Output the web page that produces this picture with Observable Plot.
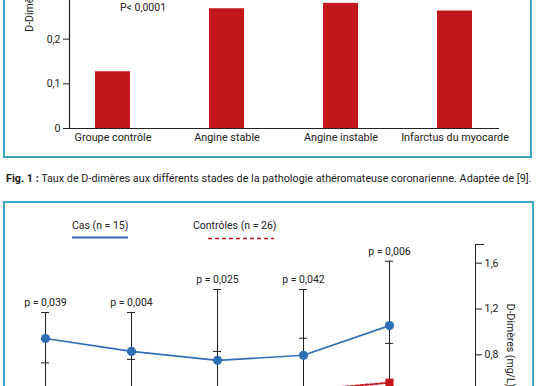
<!DOCTYPE html>
<html>
<head>
<meta charset="utf-8">
<script src="https://cdn.jsdelivr.net/npm/d3@7"></script>
<script src="https://cdn.jsdelivr.net/npm/@observablehq/plot@0.6"></script>
<style>
  html, body { margin: 0; padding: 0; background: #fff; }
  body { width: 536px; height: 386px; overflow: hidden; position: relative; font-family: Roboto, sans-serif; color: #222; }
  .abs { position: absolute; }
  .panel { position: absolute; box-sizing: border-box; border: 2px solid #3ea6c6; pointer-events: none; }
  #caption { left: 6px; top: 172px; font-size: 10.8px; line-height: 14px; white-space: nowrap; color: #1c1c1c; }
  .leg { font-size: 10.5px; line-height: 14px; white-space: nowrap; color: #222; }
</style>
</head>
<body>
<div id="top" class="abs" style="left:0;top:-159px"></div>
<div class="panel" style="left:3px;top:-10px;width:529px;height:168px"></div>
<div id="caption" class="abs"><b>Fig. 1 :</b> Taux de D-dimères aux différents stades de la pathologie athéromateuse coronarienne. Adaptée de [9].</div>
<div id="bottom" class="abs" style="left:0;top:202px"></div>
<div class="panel" style="left:3px;top:201px;width:531px;height:300px"></div>
<div id="legend"></div>
<script>
// ---- Figure 1 data ----
const categories = ["Groupe contrôle", "Angine stable", "Angine instable", "Infarctus du myocarde"];
const barValues = [0.127, 0.268, 0.280, 0.263];
const barTicks = [0, 0.1, 0.2, 0.3, 0.4, 0.5, 0.6];
const barMax = 0.62;
const barAnnotation = ["P< 0,0001"];
const barAnnotationAt = [0.270];

// ---- Figure 2 data ----
const timepoints = ["T1", "T2", "T3", "T4", "T5"];
const casMean = [0.942, 0.830, 0.752, 0.796, 1.055];
const casUpper = [1.169, 1.169, 1.370, 1.370, 1.617];
const casLower = [0.40, 0.35, 0.30, 0.35, 0.45];
const ctrlMean = [0.42, 0.44, 0.45, 0.490, 0.557];
const ctrlUpper = [0.730, 0.760, 0.830, 0.945, 0.900];
const ctrlLower = [0.15, 0.15, 0.15, 0.15, 0.20];
const pLabels = ["p = 0,039", "p = 0,004", "p = 0,025", "p = 0,042", "p = 0,006"];
const lineTicks = [0.4, 0.8, 1.2, 1.6];
const lineMax = 1.763;
const legendCas = "Cas (n = 15)";
const legendCtrl = "Contrôles (n = 26)";

const comma = d => d === 0 ? "0" : d3.format(".1f")(d).replace(".", ",");
const RED = "#c3161d";
const BLUE = "#2f6fb4";

// ---- Figure 1 ----
const bars = categories.map((c, i) => ({cat: c, v: barValues[i]}));
const ann = barAnnotation.map((t, i) => ({t, cat: categories[0], v: barAnnotationAt[i]}));
const fig1 = Plot.plot({
  width: 536, height: 317,
  marginTop: 10, marginBottom: 30, marginLeft: 69, marginRight: 37,
  style: {fontFamily: "Roboto", fontSize: "10.5px", color: "#222", background: "none"},
  x: {domain: categories, paddingInner: 0.69, paddingOuter: 0.22, align: 0.5},
  y: {domain: [0, barMax]},
  marks: [
    Plot.barY(bars, {x: "cat", y: "v", fill: RED}),
    Plot.ruleY([0], {stroke: "#222", strokeWidth: 1.2}),
    Plot.frame({anchor: "left", stroke: "#222", strokeWidth: 1.2}),
    Plot.axisY({ticks: barTicks, tickSize: 6, tickPadding: 3, tickFormat: comma, fontSize: 10.5,
      label: "D-Dimères (mg/L)", labelAnchor: "center", labelOffset: 44, labelArrow: "none"}),
    Plot.axisX({tickSize: 0, tickPadding: 5, fontSize: 10.8, label: null}),
    Plot.text(ann, {x: "cat", y: "v", text: "t", dx: 30, fontSize: 10.5, fill: "#222"})
  ]
});
document.getElementById("top").appendChild(fig1);

// ---- Figure 2 ----
const rows = timepoints.map((t, i) => ({
  t, cm: casMean[i], cu: casUpper[i], cl: casLower[i],
  km: ctrlMean[i], ku: ctrlUpper[i], kl: ctrlLower[i], p: pLabels[i]
}));
const fig2 = Plot.plot({
  width: 536, height: 264,
  marginTop: 42, marginBottom: 20, marginLeft: 0, marginRight: 61,
  style: {fontFamily: "Roboto", fontSize: "10.5px", color: "#222", background: "none", overflow: "visible"},
  x: {type: "point", domain: timepoints, padding: 0, insetLeft: 43, insetRight: 85, axis: null},
  y: {domain: [0, lineMax], axis: null},
  marks: [
    Plot.ruleX(rows, {x: "t", y1: "cl", y2: "cu", stroke: "#1e1e1e", strokeWidth: 1}),
    Plot.ruleX(rows, {x: "t", y1: "kl", y2: "ku", stroke: "#1e1e1e", strokeWidth: 1}),
    Plot.ruleY(rows, {x1: "t", x2: "t", y: "cu", insetLeft: -4, insetRight: -4, stroke: "#1e1e1e", strokeWidth: 1}),
    Plot.ruleY(rows, {x1: "t", x2: "t", y: "ku", insetLeft: -4, insetRight: -4, stroke: "#1e1e1e", strokeWidth: 1}),
    Plot.line(rows, {x: "t", y: "km", stroke: RED, strokeWidth: 2, strokeDasharray: "3,2"}),
    Plot.dot(rows, {x: "t", y: "km", symbol: "square", r: 4.6, fill: RED}),
    Plot.line(rows, {x: "t", y: "cm", stroke: BLUE, strokeWidth: 1.6}),
    Plot.dot(rows, {x: "t", y: "cm", r: 4.6, fill: BLUE}),
    Plot.text(rows, {x: "t", y: "cu", text: "p", dy: -10, fontSize: 10.5, fill: "#222"}),
    Plot.frame({anchor: "right", stroke: "#222", strokeWidth: 1}),
    Plot.axisY({anchor: "right", ticks: lineTicks, tickSize: 6, tickPadding: 3, tickFormat: comma, fontSize: 10.5, label: null}),
    Plot.axisY({anchor: "right", ticks: [lineMax], tickSize: 8, tickFormat: () => "", label: null}),
    Plot.text(["D-Dimères (mg/L)"], {frameAnchor: "right", textAnchor: "middle", rotate: 90, dx: 35, fontSize: 10.5, fill: "#222"})
  ]
});
document.getElementById("bottom").appendChild(fig2);

// ---- Legend (HTML) ----
const legend = document.getElementById("legend");
legend.innerHTML = `
  <div class="abs leg" style="left:72px;top:219px">${legendCas}</div>
  <svg class="abs" style="left:72px;top:236px" width="56" height="3"><line x1="0" x2="56" y1="1.5" y2="1.5" stroke="${BLUE}" stroke-width="2"/></svg>
  <div class="abs leg" style="left:193px;top:219px">${legendCtrl}</div>
  <svg class="abs" style="left:208px;top:237px" width="66" height="3"><line x1="0" x2="66" y1="1.5" y2="1.5" stroke="${RED}" stroke-width="1.6" stroke-dasharray="4,3"/></svg>
`;
</script>
</body>
</html>
